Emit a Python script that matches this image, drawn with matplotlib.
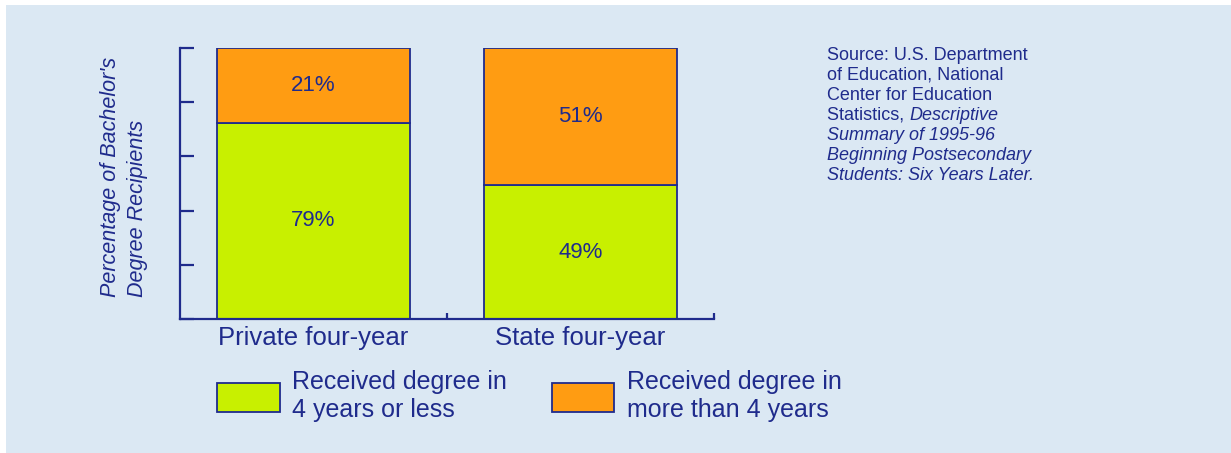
import matplotlib.pyplot as plt
from matplotlib.patches import Patch

# data
categories = ["Private four-year", "State four-year"]
# the reference draws the private bar split at about 72%, not at 79%
on_time = [72.4, 49.4]
late = [27.6, 50.6]
on_time_labels = ["79%", "49%"]
late_labels = ["21%", "51%"]
legend_labels = ["Received degree in\n4 years or less",
                 "Received degree in\nmore than 4 years"]
source_lines = [
    [("Source: U.S. Department", "normal")],
    [("of Education, National", "normal")],
    [("Center for Education", "normal")],
    [("Statistics, ", "normal"), ("Descriptive", "italic")],
    [("Summary of 1995-96", "italic")],
    [("Beginning Postsecondary", "italic")],
    [("Students: Six Years Later.", "italic")],
]

navy = "#1f2b8c"
green = "#c8f000"
orange = "#ff9c12"
bg = "#dbe8f3"

plt.rcParams["font.family"] = ["Liberation Sans", "DejaVu Sans"]

fig = plt.figure(figsize=(12.31, 4.53), dpi=100)
fig.patch.set_facecolor("white")
# light blue panel behind everything
fig.add_artist(plt.Rectangle((6 / 1231, 0), 1, 1 - 5 / 453, transform=fig.transFigure,
                             facecolor=bg, edgecolor="none", zorder=-10))

ax = fig.add_axes([180 / 1231, (453 - 319) / 453, 534 / 1231, 271 / 453])
ax.set_facecolor("none")

x = [0.5, 1.5]
ax.bar(x, on_time, width=0.72, color=green, edgecolor=navy, linewidth=1.3)
ax.bar(x, late, width=0.72, bottom=on_time, color=orange, edgecolor=navy, linewidth=1.3)

for xi, a, b, la, lb in zip(x, on_time, late, on_time_labels, late_labels):
    ax.text(xi, a / 2, la, ha="center", va="center", fontsize=16, color=navy)
    ax.text(xi, a + b / 2, lb, ha="center", va="center", fontsize=16, color=navy)

ax.set_xlim(0, 2)
ax.set_ylim(0, 100)
for s in ["top", "right"]:
    ax.spines[s].set_visible(False)
for s in ["left", "bottom"]:
    ax.spines[s].set_color(navy)
    ax.spines[s].set_linewidth(1.6)

ax.set_yticks([0, 20, 40, 60, 80, 100])
ax.set_yticklabels([])
ax.tick_params(axis="y", direction="in", length=10, width=1.6, color=navy)

ax.set_xticks([1, 2])
ax.set_xticklabels([])
ax.tick_params(axis="x", which="major", direction="in", length=4, width=1.6, color=navy)
ax.set_xticks(x, minor=True)
ax.set_xticklabels(categories, minor=True, fontsize=18.5, color=navy)
ax.tick_params(axis="x", which="minor", length=0, pad=5)

fig.text(124 / 1231, 1 - 297 / 453, "Percentage of Bachelor's\nDegree Recipients",
         rotation=90, ha="center", va="bottom", multialignment="left",
         fontsize=15.5, style="italic", color=navy, linespacing=1.35)

handles = [Patch(facecolor=green, edgecolor=navy, linewidth=1.3),
           Patch(facecolor=orange, edgecolor=navy, linewidth=1.3)]
fig.legend(handles, legend_labels, loc="center left", bbox_to_anchor=(217 / 1231, 1 - 396 / 453),
           ncol=2, frameon=False, fontsize=18, labelcolor=navy, borderpad=0, borderaxespad=0,
           handlelength=2.5, handleheight=1.4, handletextpad=0.5, columnspacing=1.8)

# source note, with the title part in italics
for i, parts in enumerate(source_lines):
    y = 1 - (55 + 20 * i) / 453
    last = None
    for txt, st in parts:
        if last is None:
            last = fig.text(827 / 1231, y, txt, ha="left", va="center",
                            fontsize=13, style=st, color=navy)
        else:
            last = fig.add_artist(plt.Annotation(txt, xy=(1, 0.5), xycoords=last,
                                                 ha="left", va="center", fontsize=13,
                                                 style=st, color=navy))

fig.savefig("out.png", dpi=100, facecolor=fig.get_facecolor())
